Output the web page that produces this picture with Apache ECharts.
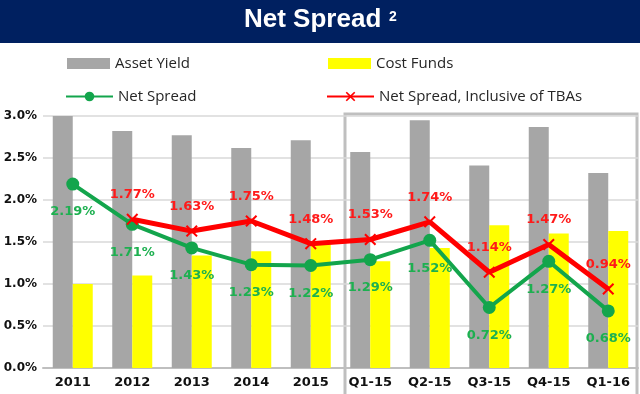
<!DOCTYPE html>
<html>
<head>
<meta charset="utf-8">
<script src="https://cdn.jsdelivr.net/npm/echarts@6/dist/echarts.min.js"></script>
<style>html,body{margin:0;padding:0;background:#fff;}#c{width:640px;height:394px;}</style>
</head>
<body>
<div id="c"></div>
<script>
const categories = ['2011','2012','2013','2014','2015','Q1-15','Q2-15','Q3-15','Q4-15','Q1-16'];
const assetYield = [3.00, 2.82, 2.77, 2.62, 2.71, 2.57, 2.95, 2.41, 2.87, 2.32];
const costFunds = [1.00, 1.10, 1.34, 1.39, 1.47, 1.27, 1.43, 1.70, 1.60, 1.63];
const netSpread = [2.19, 1.71, 1.43, 1.23, 1.22, 1.29, 1.52, 0.72, 1.27, 0.68];
const netSpreadTBA = [null, 1.77, 1.63, 1.75, 1.48, 1.53, 1.74, 1.14, 1.47, 0.94];
const yTicks = [0, 0.5, 1.0, 1.5, 2.0, 2.5, 3.0];

const chart = echarts.init(document.getElementById('c'));
const xPath = 'path://M0,1.2 L1.2,0 L5,3.8 L8.8,0 L10,1.2 L6.2,5 L10,8.8 L8.8,10 L5,6.2 L1.2,10 L0,8.8 L3.8,5 Z';
const legText = {fontFamily: 'Open Sans', fontSize: 15, color: '#262626'};
const pct = v => v.toFixed(2) + '%';

chart.setOption({
  animation: false,
  backgroundColor: '#ffffff',
  graphic: [
    {type: 'rect', shape: {x: 0, y: 0, width: 640, height: 43}, style: {fill: '#002060'}, z: 0},
    {type: 'text', x: 244, y: 20, style: {text: 'Net Spread', fill: '#ffffff', font: 'bold 26px "Liberation Sans", Arial, sans-serif', textAlign: 'left', textVerticalAlign: 'middle'}, z: 1},
    {type: 'text', x: 389, y: 17, style: {text: '2', fill: '#ffffff', font: 'bold 14px "Liberation Sans", Arial, sans-serif', textAlign: 'left', textVerticalAlign: 'middle'}, z: 1},
    {type: 'rect', shape: {x: 345, y: 114, width: 292, height: 300}, style: {fill: 'none', stroke: '#bfbfbf', lineWidth: 3}, z: 0}
  ],
  legend: [
    {data: [{name: 'Asset Yield', icon: 'rect'}], left: 67, top: 56, padding: 0, itemWidth: 43, itemHeight: 11, textStyle: legText, itemGap: 0},
    {data: [{name: 'Cost Funds', icon: 'rect'}], left: 328, top: 56, padding: 0, itemWidth: 43, itemHeight: 11, textStyle: legText, itemGap: 0},
    {data: ['Net Spread'], left: 65, top: 89, padding: 0, itemWidth: 47, itemHeight: 12, textStyle: legText, itemGap: 0},
    {data: ['Net Spread, Inclusive of TBAs'], left: 326, top: 89, padding: 0, itemWidth: 47, itemHeight: 12, textStyle: legText, itemGap: 0}
  ],
  grid: {left: 43, right: 2, top: 116, bottom: 26, containLabel: false},
  xAxis: {
    type: 'category',
    data: categories,
    axisTick: {show: false},
    axisLine: {lineStyle: {color: '#bfbfbf', width: 2}},
    axisLabel: {margin: 8, fontFamily: 'DejaVu Sans', fontWeight: 'bold', fontSize: 13, color: '#111111', interval: 0}
  },
  yAxis: {
    type: 'value',
    min: yTicks[0],
    max: yTicks[yTicks.length - 1],
    interval: 0.5,
    axisLine: {show: false},
    axisTick: {show: false},
    splitLine: {lineStyle: {color: '#d9d9d9', width: 1.5}},
    axisLabel: {margin: 6, fontFamily: 'DejaVu Sans', fontWeight: 'bold', fontSize: 12, color: '#111111', formatter: v => v.toFixed(1) + '%'}
  },
  series: [
    {name: 'Asset Yield', type: 'bar', data: assetYield, barWidth: 20, barGap: '0%', itemStyle: {color: '#a6a6a6'}, z: 2},
    {name: 'Cost Funds', type: 'bar', data: costFunds, barWidth: 20, barGap: '0%', itemStyle: {color: '#ffff00'}, z: 2},
    {name: 'Net Spread', type: 'line', data: netSpread, symbol: 'circle', symbolSize: 13,
      lineStyle: {color: '#13a54c', width: 4}, itemStyle: {color: '#13a54c'}, z: 3,
      label: {show: true, position: 'bottom', distance: 15, formatter: p => pct(p.value), fontFamily: 'DejaVu Sans', fontWeight: 'bold', fontSize: 13, color: '#1db050'}},
    {name: 'Net Spread, Inclusive of TBAs', type: 'line', data: netSpreadTBA, symbol: xPath, symbolSize: 12,
      lineStyle: {color: '#ff0000', width: 5}, itemStyle: {color: '#ff0000'}, z: 4,
      label: {show: true, position: 'top', distance: 12, formatter: p => pct(p.value), fontFamily: 'DejaVu Sans', fontWeight: 'bold', fontSize: 13, color: '#ff1a1a'}}
  ]
});
</script>
</body>
</html>
